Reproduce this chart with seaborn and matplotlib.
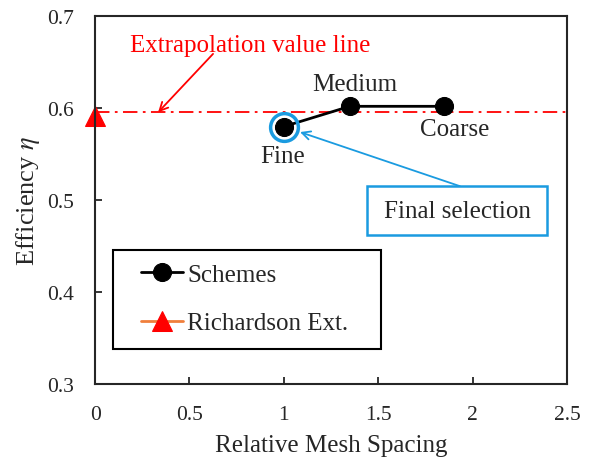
import pandas as pd
import matplotlib
matplotlib.use("Agg")
import matplotlib.pyplot as plt
from matplotlib.patches import Rectangle
import seaborn as sns

spacing = [1.0, 1.35, 1.85]
efficiency = [0.580, 0.602, 0.602]
scheme_names = ["Fine", "Medium", "Coarse"]
rich_x = [0.0]
rich_y = [0.591]
extrap_line = 0.5955

sns.set_style("ticks")
plt.rcParams["font.family"] = ["Liberation Serif", "DejaVu Serif"]
plt.rcParams["mathtext.fontset"] = "stix"

df = pd.DataFrame({"x": spacing, "y": efficiency, "name": scheme_names})

fig, ax = plt.subplots(figsize=(5.98, 4.64), dpi=100)
sns.lineplot(data=df, x="x", y="y", ax=ax, color="black", marker="o",
             markersize=13, linewidth=2, markeredgecolor="black", label="Schemes")
sns.lineplot(x=rich_x, y=rich_y, ax=ax, color="#f07f3c", marker="^",
             markersize=14, markerfacecolor="red", markeredgecolor="red",
             linewidth=2, label="Richardson Ext.", clip_on=False)
ax.axhline(extrap_line, color="red", linestyle=(0, (8, 3, 1.5, 3)), linewidth=1.3, zorder=1)

# highlight the chosen grid
ax.plot(spacing[0], efficiency[0], marker="o", markersize=20, markerfacecolor="none",
        markeredgecolor="#1a9be0", markeredgewidth=2.5, zorder=5)

ax.text(1.377, 0.626, "Medium", fontsize=18, ha="center", va="center")
ax.text(1.907, 0.577, "Coarse", fontsize=18, ha="center", va="center")
ax.text(0.996, 0.548, "Fine", fontsize=18, ha="center", va="center")

ax.text(0.185, 0.669, "Extrapolation value line", color="red", fontsize=18, va="center")
ax.annotate("", xy=(0.334, 0.5955), xytext=(0.625, 0.659),
            arrowprops=dict(arrowstyle="->", color="red", lw=1.3, mutation_scale=15,
                            shrinkA=0, shrinkB=0))

# final selection callout
ax.add_patch(Rectangle((1.441, 0.462), 0.953, 0.0532, fc="white", ec="#1a9be0", lw=1.8, zorder=6))
ax.text(1.918, 0.4886, "Final selection", fontsize=18, ha="center", va="center", zorder=7)
ax.annotate("", xy=(1.086, 0.574), xytext=(1.933, 0.5152),
            arrowprops=dict(arrowstyle="->", color="#1a9be0", lw=1.3, mutation_scale=15,
                            shrinkA=0, shrinkB=0))

ax.set_xlim(0, 2.5)
ax.set_ylim(0.3, 0.7)
ax.set_xticks([0, 0.5, 1, 1.5, 2, 2.5])
ax.set_xticklabels(["0", "0.5", "1", "1.5", "2", "2.5"])
ax.set_yticks([0.3, 0.4, 0.5, 0.6, 0.7])
ax.tick_params(direction="in", labelsize=15.5, width=1.3, length=5)
ax.tick_params(axis="y", pad=15)
ax.tick_params(axis="x", pad=15)
for s in ax.spines.values():
    s.set_linewidth(1.5)
    s.set_visible(True)

ax.set_xlabel("Relative Mesh Spacing", fontsize=18, labelpad=7)
ax.set_ylabel(r"Efficiency $\eta$", fontsize=19, labelpad=4)

# legend: frameless, with a separate box drawn behind it
ax.add_patch(Rectangle((0.038, 0.095), 0.568, 0.269, transform=ax.transAxes,
                       fc="white", ec="black", lw=1.5, zorder=8))
leg = ax.legend(loc="center left", bbox_to_anchor=(0.0975, 0.232), fontsize=18,
                frameon=False, handlelength=1.68, handletextpad=0.16,
                borderpad=0, labelspacing=1.05, borderaxespad=0)
leg.set_zorder(9)

plt.subplots_adjust(left=0.159, right=0.948, top=0.963, bottom=0.17)
plt.savefig("out.png", dpi=100)
